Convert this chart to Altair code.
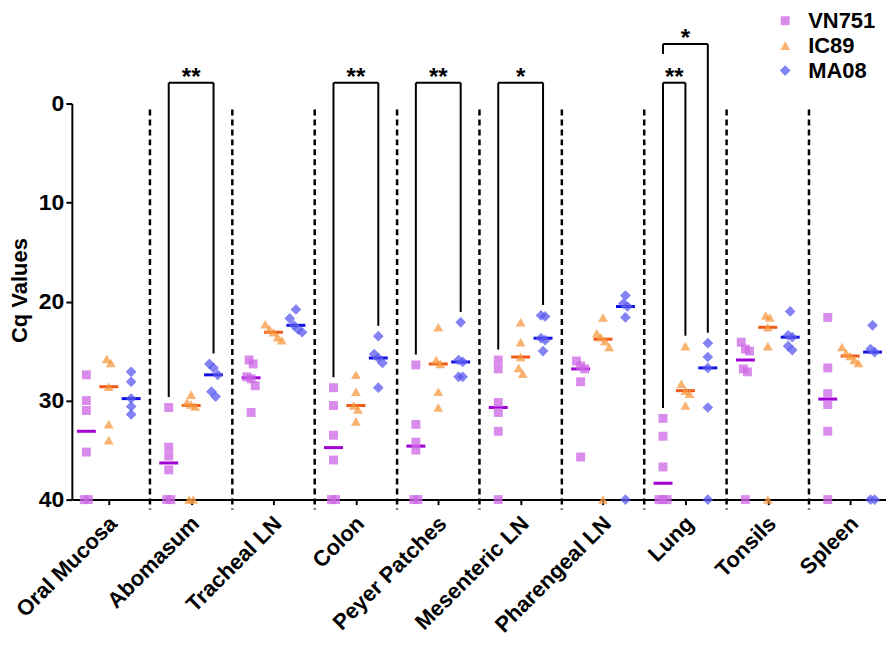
import altair as alt
import pandas as pd
import numpy as np

categories = ["Oral Mucosa", "Abomasum", "Tracheal LN", "Colon", "Peyer Patches",
              "Mesenteric LN", "Pharengeal LN", "Lung", "Tonsils", "Spleen"]
groups = ["VN751", "IC89", "MA08"]

vn751 = [
    [27.4, 30.0, 31.0, 35.2, 40, 40],
    [30.7, 34.7, 35.6, 37.0, 40, 40],
    [25.9, 26.3, 27.6, 27.8, 28.5, 31.2],
    [28.7, 30.5, 33.5, 36.0, 40, 40],
    [26.4, 32.4, 34.2, 35.0, 40, 40],
    [25.9, 26.8, 30.2, 31.2, 33.1, 40],
    [26.0, 26.5, 26.8, 28.1, 35.7],
    [31.8, 33.6, 36.7, 40, 40, 40],
    [24.1, 24.8, 25.0, 26.8, 27.1, 40],
    [21.6, 26.7, 29.3, 30.4, 33.1, 40],
]
ic89 = [
    [25.8, 26.2, 28.6, 32.4, 34.0],
    [29.4, 30.2, 30.4, 30.6, 40, 40],
    [22.3, 22.8, 23.1, 23.6, 23.9],
    [27.4, 29.1, 30.5, 30.9, 32.1],
    [22.6, 25.9, 26.3, 29.1, 30.7],
    [22.1, 24.1, 25.6, 26.7, 27.3],
    [21.6, 23.2, 23.6, 24.0, 24.6, 40],
    [24.5, 28.3, 29.0, 29.3, 30.5],
    [21.4, 21.6, 22.6, 24.5, 40],
    [24.6, 25.2, 25.5, 25.9, 26.2],
]
ma08 = [
    [27.1, 28.1, 29.8, 30.6, 31.4],
    [26.3, 26.7, 27.4, 29.1, 29.6],
    [20.8, 21.7, 22.4, 22.8, 23.1],
    [23.5, 25.3, 25.7, 26.2, 28.7],
    [22.1, 25.9, 26.1, 27.6, 27.6],
    [21.4, 21.5, 23.7, 23.9, 25.0],
    [19.4, 20.2, 20.5, 21.6, 40],
    [24.2, 25.6, 26.7, 30.7, 40],
    [21.0, 23.4, 23.6, 24.5, 24.9],
    [22.4, 24.8, 25.1, 40, 40],
]

# significance comparisons: (category, group a, group b, bracket level, label)
comparisons = [
    ("Abomasum", "VN751", "MA08", -2.1, "**"),
    ("Colon", "VN751", "MA08", -2.1, "**"),
    ("Peyer Patches", "VN751", "MA08", -2.1, "**"),
    ("Mesenteric LN", "VN751", "MA08", -2.1, "*"),
    ("Lung", "VN751", "IC89", -2.1, "**"),
    ("Lung", "VN751", "MA08", -6.0, "*"),
]

point_colors = ["#CC66E6", "#F7983F", "#5A5AF0"]
median_colors = ["#A000D4", "#F05A14", "#1010E0"]
shapes = ["square", "triangle-up", "diamond"]
sizes = [80, 115, 100]

series = {"VN751": vn751, "IC89": ic89, "MA08": ma08}
group_offset = {"VN751": -0.272, "IC89": 0.0, "MA08": 0.272}
step = 0.05  # small spread for overlapping points


def spread(vals):
    order = np.argsort(vals)
    offs = np.zeros(len(vals))
    clusters = []
    cur = [order[0]]
    for a, b in zip(order[:-1], order[1:]):
        if vals[b] - vals[a] < 0.7:
            cur.append(b)
        else:
            clusters.append(cur)
            cur = [b]
    clusters.append(cur)
    for c in clusters:
        n = len(c)
        for k, idx in enumerate(c):
            offs[idx] = (k - (n - 1) / 2) * step
    return offs


rows, med_rows = [], []
for g, data in series.items():
    gi = groups.index(g)
    for ci, vals in enumerate(data):
        offs = spread(vals)
        cx = ci + group_offset[g]
        for v, o in zip(vals, offs):
            rows.append({"x": cx + o, "y": v, "group": g})
        med_rows.append({"x": cx - 0.115, "x2": cx + 0.115, "y": float(np.median(vals)),
                         "mcolor": median_colors[gi]})
df = pd.DataFrame(rows)
med = pd.DataFrame(med_rows)

sep = pd.DataFrame({"x": [i + 0.5 for i in range(len(categories) - 1)]})
sep["y"] = 0.6
sep["y2"] = 41.0

seg_rows, txt_rows = [], []
for cat, ga, gb, lvl, lab in comparisons:
    ci = categories.index(cat)
    xa = ci + group_offset[ga]
    xb = ci + group_offset[gb]
    top_a = min(series[ga][ci]) - 1.05
    top_b = min(series[gb][ci]) - 1.05
    # if a lower bracket in the same category starts at group a, keep the leg short
    inner = any(c[0] == cat and c[1] == ga and c[3] > lvl for c in comparisons)
    end_a = lvl + 1.0 if inner else top_a
    seg_rows.append({"x": xa, "x2": xb, "y": lvl, "y2": lvl})
    seg_rows.append({"x": xa, "x2": xa, "y": lvl, "y2": end_a})
    seg_rows.append({"x": xb, "x2": xb, "y": lvl, "y2": top_b})
    txt_rows.append({"x": (xa + xb) / 2, "y": lvl, "label": lab})
segs = pd.DataFrame(seg_rows)
txts = pd.DataFrame(txt_rows)

FONT = "Liberation Sans"
xscale = alt.Scale(domain=[-0.448, 9.435], nice=False, zero=False)
yscale = alt.Scale(domain=[0, 40], reverse=True, nice=False, zero=False)

label_array = "[" + ",".join('"%s"' % c for c in categories) + "]"
xaxis = alt.Axis(values=list(range(len(categories))), labelExpr=label_array + "[datum.value]",
                 labelAngle=-45, labelAlign="right", labelBaseline="top", labelOverlap=False,
                 labelFontSize=22, labelFontWeight="bold", labelFont=FONT, labelColor="black",
                 labelPadding=8, labelOffset=-3, tickSize=5, tickWidth=2, tickColor="black",
                 domainWidth=2, domainColor="black", grid=False, title=None)
yaxis = alt.Axis(values=[0, 10, 20, 30, 40], title="Cq Values", titleFontSize=22,
                 titleFontWeight="bold", titleFont=FONT, titleColor="black",
                 titleX=-52, titleY=187, titleBaseline="middle", titleAlign="center", titleAngle=-90,
                 labelFontSize=23, labelFontWeight="bold", labelFont=FONT, labelColor="black",
                 labelPadding=2, tickSize=6, tickWidth=2, tickColor="black",
                 domainWidth=2, domainColor="black", grid=False)

legend = alt.Legend(title=None, orient="none", legendX=704, legendY=-94, labelFontSize=22,
                    labelFontWeight="bold", labelFont=FONT, labelColor="black",
                    symbolSize=70, labelOffset=12, rowPadding=3, padding=0)

points = alt.Chart(df).mark_point(filled=True, opacity=0.75).encode(
    x=alt.X("x:Q", scale=xscale, axis=xaxis),
    y=alt.Y("y:Q", scale=yscale, axis=yaxis),
    color=alt.Color("group:N", scale=alt.Scale(domain=groups, range=point_colors), legend=legend),
    shape=alt.Shape("group:N", scale=alt.Scale(domain=groups, range=shapes), legend=legend),
    size=alt.Size("group:N", scale=alt.Scale(domain=groups, range=sizes), legend=None),
)

medians = alt.Chart(med).mark_rule(strokeWidth=3).encode(
    x=alt.X("x:Q", scale=xscale), x2="x2:Q",
    y=alt.Y("y:Q", scale=yscale),
    stroke=alt.Stroke("mcolor:N", scale=None, legend=None),
)

separators = alt.Chart(sep).mark_rule(strokeDash=[6, 4], strokeWidth=2.5, color="black").encode(
    x=alt.X("x:Q", scale=xscale), y=alt.Y("y:Q", scale=yscale), y2="y2:Q"
)

brackets = alt.Chart(segs).mark_rule(strokeWidth=2, color="black").encode(
    x=alt.X("x:Q", scale=xscale), x2="x2:Q",
    y=alt.Y("y:Q", scale=yscale), y2="y2:Q",
)

stars = alt.Chart(txts).mark_text(fontSize=24, fontWeight="bold", font=FONT, baseline="alphabetic",
                                  align="center", color="black", dy=2).encode(
    x=alt.X("x:Q", scale=xscale), y=alt.Y("y:Q", scale=yscale), text="label:N"
)

chart = alt.layer(separators, brackets, stars, medians, points).properties(
    width=816, height=397,
    autosize=alt.AutoSizeParams(type="none"),
    padding={"left": 64, "top": 95, "right": 0, "bottom": 145},
    background="white",
).configure_view(stroke=None)

chart.save("out.html", embed_options={"renderer": "svg", "actions": False})
